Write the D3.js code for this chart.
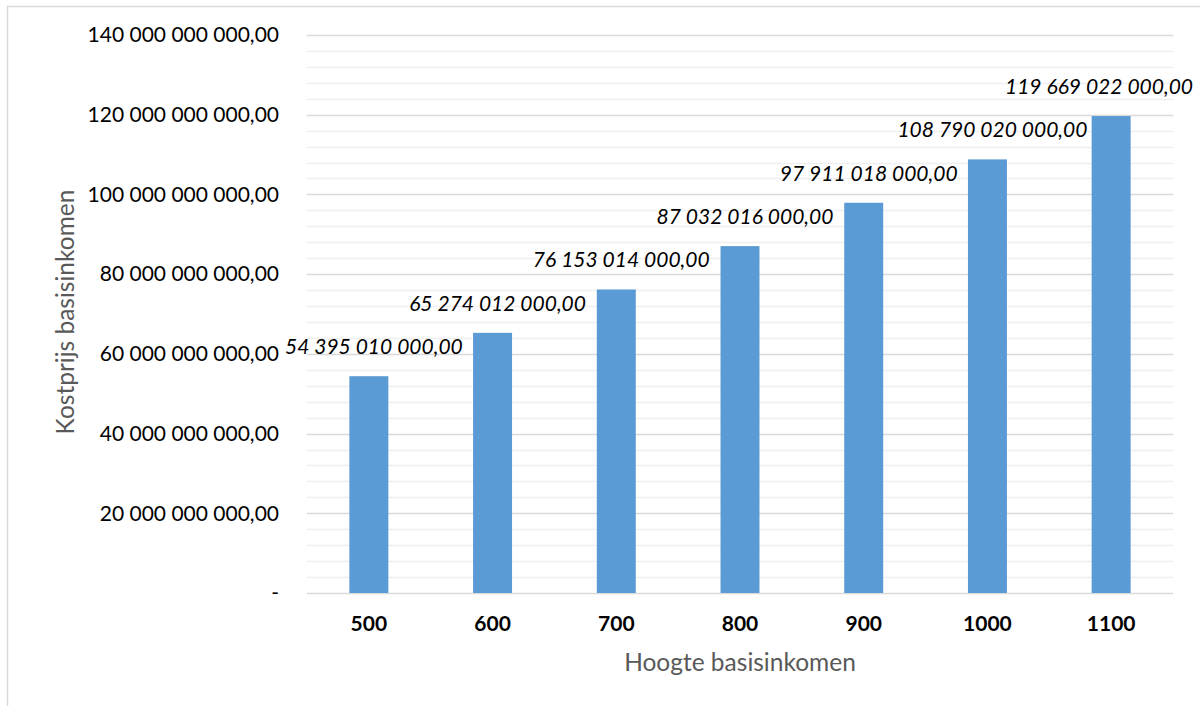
<!DOCTYPE html>
<html>
<head>
<meta charset="utf-8">
<script src="https://cdn.jsdelivr.net/npm/d3@7"></script>
<style>
  html, body { margin: 0; padding: 0; background: #fff; }
  svg { display: block; font-family: Lato, "Open Sans", sans-serif; }
</style>
</head>
<body>
<svg id="chart" width="1200" height="706"></svg>
<script>
// Basic income levels (per month) and the yearly total cost for each
const categories = ["500", "600", "700", "800", "900", "1000", "1100"];
const costs = [54395010000, 65274012000, 76153014000, 87032016000, 97911018000, 108790020000, 119669022000];
const yTicks = [0, 20e9, 40e9, 60e9, 80e9, 100e9, 120e9, 140e9];
const xTitle = "Hoogte basisinkomen";
const yTitle = "Kostprijs basisinkomen";

const W = 1200, H = 706;
const plot = { left: 307, right: 1173, top: 35, bottom: 593 };

const nl = d3.formatLocale({ decimal: ",", thousands: " ", grouping: [3], currency: ["", ""] });
const fmt = nl.format(",.2f");
const tickFmt = v => v === 0 ? "-" : fmt(v);

const svg = d3.select("#chart");

// outer chart frame
svg.append("rect")
  .attr("x", 7.5).attr("y", 6.5)
  .attr("width", W).attr("height", H)
  .attr("fill", "none").attr("stroke", "#d9d9d9").attr("stroke-width", 1.5);

const x = d3.scaleBand().domain(categories).range([plot.left, plot.right]).paddingInner(0.685).paddingOuter(0.3425);
const y = d3.scaleLinear().domain([0, 140e9]).range([plot.bottom, plot.top]);

// minor gridlines every 4 billion
const minor = d3.range(4e9, 140e9, 4e9).filter(v => v % 20e9 !== 0);
svg.append("g").selectAll("line").data(minor).join("line")
  .attr("x1", plot.left).attr("x2", plot.right)
  .attr("y1", d => Math.round(y(d)) + 0.5).attr("y2", d => Math.round(y(d)) + 0.5)
  .attr("stroke", "#efefef").attr("stroke-width", 1.5);

// major gridlines
svg.append("g").selectAll("line").data(yTicks).join("line")
  .attr("x1", plot.left).attr("x2", plot.right)
  .attr("y1", d => Math.round(y(d)) + 0.5).attr("y2", d => Math.round(y(d)) + 0.5)
  .attr("stroke", "#d9d9d9").attr("stroke-width", 1.5);

// y axis labels
const yAxis = d3.axisLeft(y).tickValues(yTicks).tickFormat(tickFmt).tickSize(0).tickPadding(0);
const gy = svg.append("g").attr("transform", `translate(${plot.left - 28},0)`).call(yAxis);
gy.select(".domain").remove();
gy.selectAll("text").attr("font-size", 21).attr("fill", "#000").attr("font-family", "Lato, sans-serif");

// x axis labels
const xAxis = d3.axisBottom(x).tickSize(0).tickPadding(0);
const gx = svg.append("g").attr("transform", `translate(0,${plot.bottom + 23})`).call(xAxis);
gx.select(".domain").remove();
gx.selectAll("text").attr("font-size", 21).attr("font-weight", "bold").attr("fill", "#000").attr("font-family", "Lato, sans-serif");

// bars
svg.append("g").selectAll("rect").data(costs).join("rect")
  .attr("x", (d, i) => x(categories[i]))
  .attr("width", x.bandwidth())
  .attr("y", d => y(d))
  .attr("height", d => y(0) - y(d))
  .attr("fill", "#5b9bd5");

// value labels above bars, kept inside the frame
const labels = svg.append("g").selectAll("text").data(costs).join("text")
  .attr("font-size", 21).attr("font-style", "italic").attr("fill", "#000")
  .attr("text-anchor", "middle")
  .attr("x", (d, i) => x(categories[i]) + x.bandwidth() / 2 + 5)
  .attr("y", d => y(d) - 22)
  .text(d => fmt(d));
labels.each(function () {
  const el = d3.select(this);
  const w = this.getComputedTextLength();
  const cx = +el.attr("x");
  if (cx + w / 2 > W - 7) el.attr("x", W - 7 - w / 2);
});

// axis titles
svg.append("text")
  .attr("x", (plot.left + plot.right) / 2).attr("y", 671)
  .attr("text-anchor", "middle").attr("font-size", 24.5).attr("fill", "#595959")
  .text(xTitle);

svg.append("text")
  .attr("transform", `translate(74,312) rotate(-90)`)
  .attr("text-anchor", "middle").attr("font-size", 24.5).attr("fill", "#595959")
  .text(yTitle);
</script>
</body>
</html>
